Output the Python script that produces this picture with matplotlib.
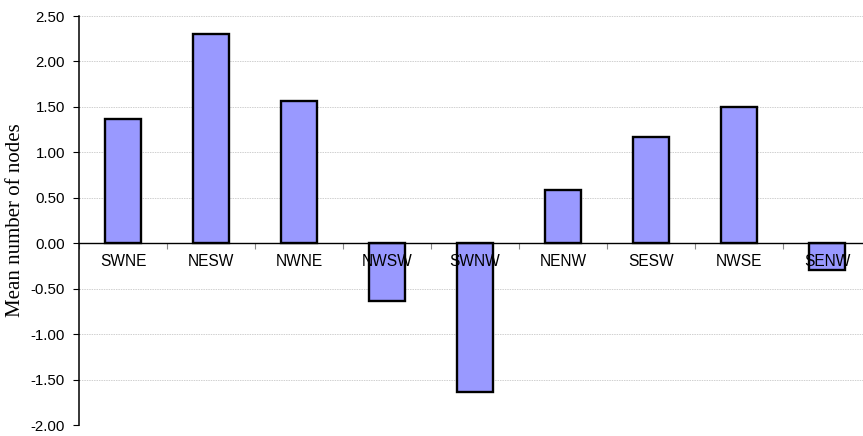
import numpy as np
import matplotlib
matplotlib.use("Agg")
import matplotlib.pyplot as plt

# Data
categories = ["SWNE", "NESW", "NWNE", "NWSW", "SWNW", "NENW", "SESW", "NWSE", "SENW"]
mean_nodes = [1.37, 2.30, 1.56, -0.64, -1.64, 0.59, 1.17, 1.50, -0.30]
y_ticks = [-2.0, -1.5, -1.0, -0.5, 0.0, 0.5, 1.0, 1.5, 2.0, 2.5]

plt.rcParams.update({"font.family": "Liberation Sans", "font.size": 10.8})

fig = plt.figure(figsize=(8.63, 4.36), dpi=100)
ax = fig.add_axes([0.0915, 0.0252, 0.9177, 0.9381])

x = np.arange(len(categories))
ax.bar(x, mean_nodes, width=0.41, color="#9999FF", edgecolor="black",
       linewidth=1.7, zorder=2)

# Axis limits and grid
ax.set_xlim(-0.5, len(categories) - 0.5)
ax.set_ylim(-2.0, 2.5)
ax.set_yticks(y_ticks)
ax.set_yticklabels([f"{v:.2f}" for v in y_ticks])
ax.yaxis.grid(True, linestyle=(0, (1.5, 1)), color="#d0d0d0", linewidth=0.7)

# Spines
ax.spines["top"].set_visible(False)
ax.spines["right"].set_visible(False)
ax.spines["bottom"].set_position(("data", 0))
ax.spines["left"].set_linewidth(1.1)
ax.spines["bottom"].set_linewidth(1.0)

# x ticks at category boundaries, labels drawn as text
ax.set_xticks(np.arange(len(categories) + 1) - 0.5)
ax.set_xticklabels([])
ax.tick_params(axis="x", direction="out", length=4, width=0.8, color="#888888")
ax.tick_params(axis="y", direction="out", length=4, width=0.8, pad=6)
for i, name in enumerate(categories):
    ax.annotate(name, (i, 0), xytext=(0, -13), textcoords="offset points",
                ha="center", va="center", fontsize=11.2, zorder=5)

ax.set_ylabel("Mean number of nodes", family="Liberation Serif", fontsize=15, labelpad=4)

fig.savefig("out.png", dpi=100)
